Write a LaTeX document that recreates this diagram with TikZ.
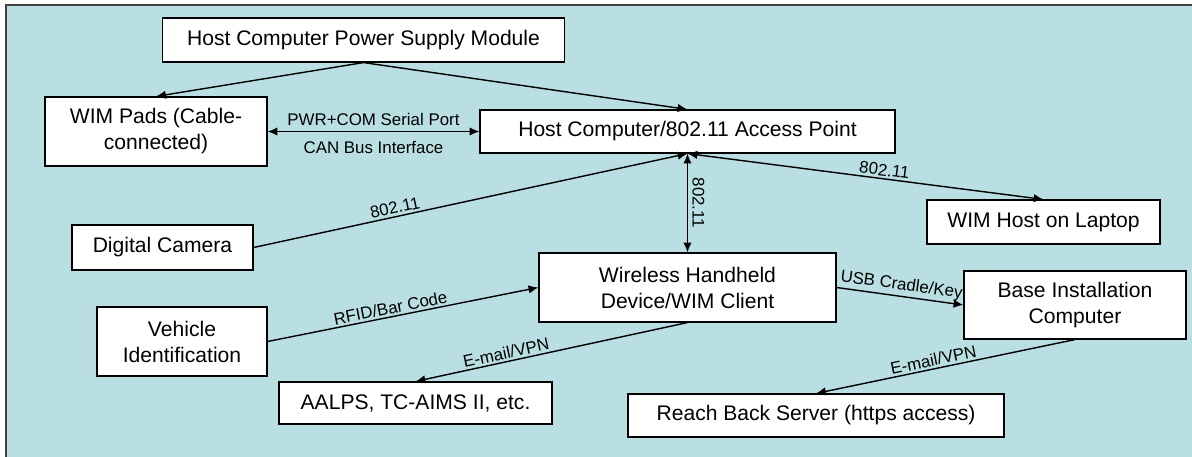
\documentclass[tikz,border=0pt]{standalone}
\usepackage{fontspec}
\setsansfont{Liberation Sans}
\usetikzlibrary{arrows.meta}
\definecolor{panelblue}{RGB}{185,223,226}

\begin{document}
\begin{tikzpicture}[
  x=0.025cm, y=-0.025cm,
  box/.style  = {draw, line width=0.8pt, fill=white, align=center,
                 inner sep=2pt, font=\fontsize{15}{18.5}\selectfont\sffamily},
  arr/.style  = {-{Latex[length=7pt,width=6pt]}, line width=1pt},
  darr/.style = {{Latex[length=7pt,width=6pt]}-{Latex[length=7pt,width=6pt]},
                 line width=1pt},
  lbl/.style  = {font=\fontsize{12}{14}\selectfont\sffamily, inner sep=1.5pt},
]
\useasboundingbox (0,0) rectangle (1192,457);
\draw[fill=panelblue, draw=black!75, line width=1.5pt] (6,5) rectangle (1215,470);

\node[box, minimum width=10.03cm, minimum height=1.1cm]   (psu)      at (363.5, 40)
  {Host Computer Power Supply Module};
\node[box, minimum width=5.55cm,  minimum height=1.725cm] (pads)     at (156, 131.5)
  {WIM Pads (Cable-\\connected)};
\node[box, minimum width=10.375cm, minimum height=1.075cm] (host)    at (687.5, 131.5)
  {Host Computer/802.11 Access Point};
\node[box, minimum width=5.825cm, minimum height=1.1cm]   (laptop)   at (1043.5, 222)
  {WIM Host on Laptop};
\node[box, minimum width=4.525cm, minimum height=1.125cm] (camera)   at (162.5, 247.5)
  {Digital Camera};
\node[box, minimum width=7.425cm, minimum height=1.725cm] (handheld) at (687.5, 287.5)
  {Wireless Handheld\\Device/WIM Client};
\node[box, minimum width=5.55cm,  minimum height=1.7cm]   (base)     at (1075, 305)
  {Base Installation\\Computer};
\node[box, minimum width=4.25cm,  minimum height=1.725cm] (vehicle)  at (182, 341.5)
  {Vehicle\\Identification};
\node[box, minimum width=6.825cm, minimum height=1.05cm]  (aalps)    at (415.5, 403)
  {AALPS, TC-AIMS II, etc.};
\node[box, minimum width=9.4cm,   minimum height=1.075cm] (reach)    at (816, 415.5)
  {Reach Back Server (https access)};

% power feeds
\draw[arr] (psu.south) -- (pads.north);
\draw[arr] (psu.south) -- (host.north);

% cable link to the pads
\draw[darr] (pads.east)
  -- node[lbl, above=2pt] {PWR+COM Serial Port}
     node[lbl, below=5pt] {CAN Bus Interface}
  (host.west);

% wireless links
\draw[arr] (camera.east)
  -- node[lbl, sloped, above, pos=0.33] {802.11} (host.south);
\draw[darr] (host.south)
  -- node[lbl, rotate=-90, anchor=south, inner sep=3pt] {802.11} (handheld.north);
\draw[darr] (host.south)
  -- node[lbl, sloped, above, pos=0.55] {802.11} (laptop.north);

% handheld links
\draw[arr] (vehicle.east)
  -- node[lbl, sloped, above, pos=0.46] {RFID/Bar Code} (handheld.west);
\draw[arr] (handheld.east)
  -- node[lbl, sloped, above, pos=0.5] {USB Cradle/Key} (base.west);
\draw[arr] (handheld.south)
  -- node[lbl, sloped, above, pos=0.66] {E-mail/VPN} (aalps.north);
\draw[arr] (base.south)
  -- node[lbl, sloped, above, pos=0.54] {E-mail/VPN} (reach.north);

\end{tikzpicture}
\end{document}
